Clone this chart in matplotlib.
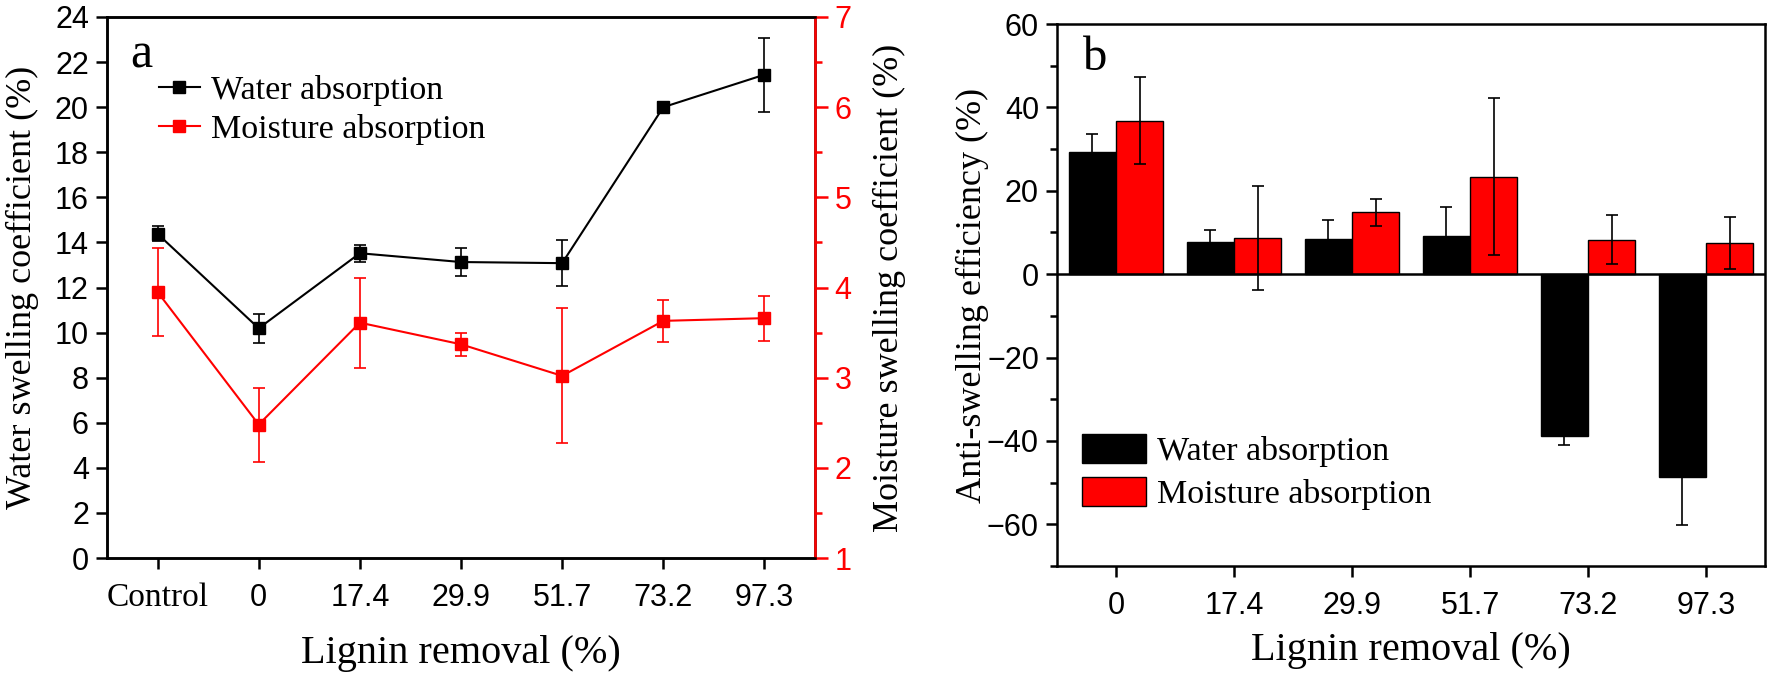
import matplotlib
matplotlib.use("Agg")
import matplotlib.pyplot as plt
import numpy as np
from matplotlib.ticker import MultipleLocator
from matplotlib.lines import Line2D

# panel a: swelling coefficients
cats_a = ['Control', '0', '17.4', '29.9', '51.7', '73.2', '97.3']
water_a = [14.38, 10.19, 13.52, 13.13, 13.08, 20.0, 21.44]
water_a_err = [0.33, 0.65, 0.37, 0.63, 1.03, 0.25, 1.65]
moist_a = [3.95, 2.48, 3.61, 3.37, 3.02, 3.63, 3.66]
moist_a_err = [0.49, 0.41, 0.5, 0.13, 0.75, 0.23, 0.25]

# panel b: anti-swelling efficiency
cats_b = ['0', '17.4', '29.9', '51.7', '73.2', '97.3']
water_b = [29.4, 7.8, 8.5, 9.1, -38.8, -48.7]
water_b_err = [4.2, 2.7, 4.5, 7.0, 2.1, 11.4]
moist_b = [36.8, 8.7, 14.8, 23.4, 8.3, 7.5]
moist_b_err = [10.4, 12.5, 3.3, 18.8, 5.8, 6.3]

plt.rcParams['font.family'] = 'Liberation Sans'
serif = 'Liberation Serif'
lw_spine = 1.8

fig = plt.figure(figsize=(17.7, 6.8), dpi=100)

# ---------- panel a ----------
ax = fig.add_axes([107/1770, 1 - 558/680, 708/1770, 541/680])
ax2 = ax.twinx()
xa = np.arange(len(cats_a))

ax.errorbar(xa, water_a, yerr=water_a_err, color='black', marker='s', ms=8,
            lw=1.5, elinewidth=1.2, capsize=4, capthick=1.2, zorder=3)
ax2.errorbar(xa, moist_a, yerr=moist_a_err, color='red', marker='s', ms=8,
             lw=1.5, elinewidth=1.2, capsize=4, capthick=1.2, zorder=3)

ax.set_xlim(-0.5, 6.5)
ax.set_ylim(0, 24)
ax.set_yticks(range(0, 25, 2))
ax2.set_ylim(1, 7)
ax2.set_yticks(range(1, 8))
ax2.yaxis.set_minor_locator(MultipleLocator(0.5))
ax.set_xticks(xa)
ax.set_xticklabels(cats_a)

for a in (ax, ax2):
    for s in a.spines.values():
        s.set_linewidth(lw_spine)
ax2.spines['right'].set_color('red')
ax.tick_params(direction='out', length=8, width=lw_spine, labelsize=22, pad=5)
ax.tick_params(axis='x', pad=10)
ax2.tick_params(axis='y', which='major', direction='out', length=9, width=lw_spine,
                colors='red', labelsize=22, pad=5)
ax2.tick_params(axis='y', which='minor', direction='out', length=5, width=lw_spine,
                colors='red')
# the "Control" tick label is set in a serif face
ctrl = ax.get_xticklabels()[0]
ctrl.set_family(serif)
ctrl.set_fontsize(24)

ax.set_ylabel('Water swelling coefficient (%)', family=serif, fontsize=26, va='center')
ax.yaxis.set_label_coords(-0.119, 0.5)
ax2.set_ylabel('Moisture swelling coefficient (%)', family=serif, fontsize=26,
               va='center', rotation=90)
ax2.yaxis.set_label_coords(1.105, 0.5)
ax.set_xlabel('Lignin removal (%)', family=serif, fontsize=29, va='center')
ax.xaxis.set_label_coords(0.5, -0.176)
ax.text(0.048, 0.906, 'a', transform=ax.transAxes, family=serif, fontsize=36,
        ha='center', va='baseline')

handles = [Line2D([], [], color='black', marker='s', ms=8, lw=1.5),
           Line2D([], [], color='red', marker='s', ms=8, lw=1.5)]
ax.legend(handles, ['Water absorption', 'Moisture absorption'], loc='upper left',
          bbox_to_anchor=(0.073, 0.893), frameon=False, prop={'family': serif, 'size': 24.5},
          handlelength=1.2, handletextpad=0.35, labelspacing=0.25, borderpad=0,
          borderaxespad=0)

# ---------- panel b ----------
bx = fig.add_axes([1057/1770, 1 - 566/680, 708/1770, 542/680])
xb = np.arange(len(cats_b))
w = 0.4
bx.bar(xb - w/2, water_b, w, yerr=water_b_err, color='black', edgecolor='black',
       linewidth=1, capsize=4, error_kw={'elinewidth': 1.2, 'capthick': 1.2, 'ecolor': 'black'},
       label='Water absorption')
bx.bar(xb + w/2, moist_b, w, yerr=moist_b_err, color='red', edgecolor='black',
       linewidth=1, capsize=4, error_kw={'elinewidth': 1.2, 'capthick': 1.2, 'ecolor': 'black'},
       label='Moisture absorption')
bx.axhline(0, color='black', lw=1.8)

bx.set_xlim(-0.5, 5.5)
bx.set_ylim(-70, 60)
bx.set_yticks(range(-60, 61, 20))
bx.yaxis.set_minor_locator(MultipleLocator(10))
bx.set_xticks(xb)
bx.set_xticklabels(cats_b)
for s in bx.spines.values():
    s.set_linewidth(lw_spine)
bx.tick_params(which='major', direction='out', length=8, width=lw_spine, labelsize=22, pad=5)
bx.tick_params(which='minor', direction='out', length=5, width=lw_spine)
bx.tick_params(axis='x', pad=10)

bx.set_ylabel('Anti-swelling efficiency (%)', family=serif, fontsize=26, va='center')
bx.yaxis.set_label_coords(-0.120, 0.5)
bx.set_xlabel('Lignin removal (%)', family=serif, fontsize=29, va='center')
bx.xaxis.set_label_coords(0.5, -0.155)
bx.text(0.054, 0.915, 'b', transform=bx.transAxes, family=serif, fontsize=35,
        ha='center', va='baseline')
bx.legend(loc='upper left', bbox_to_anchor=(0.035, 0.243), frameon=False,
          prop={'family': serif, 'size': 24.5}, handlelength=1.9, handleheight=0.9,
          handletextpad=0.3, labelspacing=0.3, borderpad=0, borderaxespad=0)

fig.savefig('out.png', dpi=100)
